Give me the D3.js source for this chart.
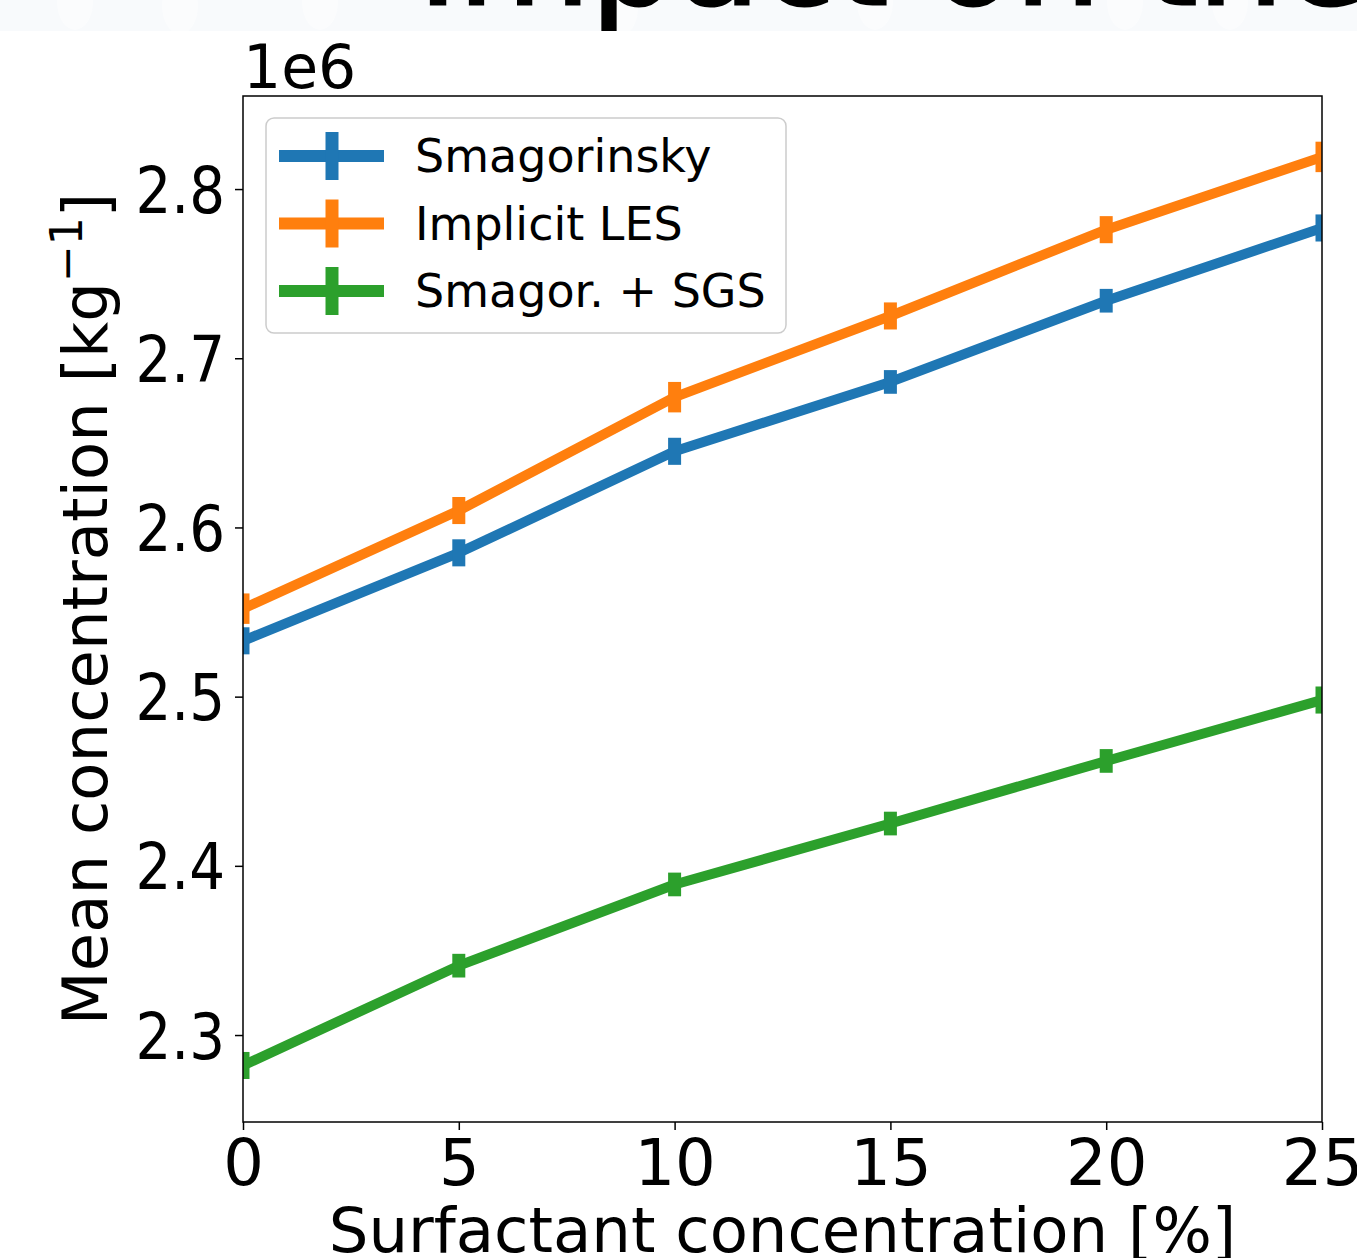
<!DOCTYPE html>
<html>
<head>
<meta charset="utf-8">
<script src="https://cdn.jsdelivr.net/npm/d3@7"></script>
<style>
  html, body { margin: 0; padding: 0; background: #ffffff; }
  svg { display: block; font-family: "DejaVu Sans", sans-serif; }
</style>
</head>
<body>
<script>
// ---- data ----
const xValues = [0, 5, 10, 15, 20, 25];
const seriesNames = ["Smagorinsky", "Implicit LES", "Smagor. + SGS"];
const smagorinsky = [2.533, 2.585, 2.645, 2.686, 2.734, 2.777];
const implicitLES = [2.552, 2.610, 2.677, 2.725, 2.776, 2.819];
const smagorSGS   = [2.282, 2.341, 2.389, 2.425, 2.462, 2.498];
const smagorinskyErr = [0.008, 0.008, 0.008, 0.007, 0.007, 0.008];
const implicitLESErr = [0.009, 0.008, 0.009, 0.008, 0.008, 0.009];
const smagorSGSErr   = [0.008, 0.007, 0.007, 0.007, 0.007, 0.008];
const xTicks = [0, 5, 10, 15, 20, 25];
const yTicks = [2.3, 2.4, 2.5, 2.6, 2.7, 2.8];
const colors = ["#1f77b4", "#ff7f0e", "#2ca02c"];
const titleText = "Impact on the";

const W = 1357, H = 1258;
const plot = { left: 243, right: 1322, top: 96, bottom: 1122 };

const svg = d3.select("body").append("svg").attr("width", W).attr("height", H);

// ---- cropped slide header ----
svg.append("defs").append("clipPath").attr("id", "bandClip")
  .append("rect").attr("x", 0).attr("y", 0).attr("width", W).attr("height", 31);
const band = svg.append("g").attr("clip-path", "url(#bandClip)");
band.append("rect").attr("x", 0).attr("y", 0).attr("width", W).attr("height", 31).attr("fill", "#f8fafc");
[[75, 2], [180, 6], [320, 2], [620, 8], [875, 2], [1125, 2], [1230, 2]].forEach(([cx, cy]) => {
  band.append("ellipse").attr("cx", cx).attr("cy", cy).attr("rx", 18).attr("ry", 28)
    .attr("fill", "#ffffff").attr("opacity", 0.45);
});
band.append("text").attr("x", 418).attr("y", 4)
  .attr("font-size", 136).attr("fill", "#000").attr("font-family", "DejaVu Sans")
  .attr("stroke", "#000").attr("stroke-width", 3)
  .text(titleText);

// ---- scales ----
const x = d3.scaleLinear().domain([0, 25]).range([plot.left, plot.right]);
const y = d3.scaleLinear().domain([2.2486, 2.855]).range([plot.bottom, plot.top]);

svg.append("defs").append("clipPath").attr("id", "plotClip")
  .append("rect").attr("x", plot.left).attr("y", plot.top)
  .attr("width", plot.right - plot.left).attr("height", plot.bottom - plot.top);

// ---- series ----
const series = [
  { name: seriesNames[0], values: smagorinsky, err: smagorinskyErr, color: colors[0] },
  { name: seriesNames[1], values: implicitLES, err: implicitLESErr, color: colors[1] },
  { name: seriesNames[2], values: smagorSGS, err: smagorSGSErr, color: colors[2] }
];

const line = d3.line().x((d, i) => x(xValues[i])).y(d => y(d));
const dataG = svg.append("g").attr("clip-path", "url(#plotClip)");
series.forEach(s => {
  dataG.append("path").datum(s.values).attr("d", line)
    .attr("fill", "none").attr("stroke", s.color).attr("stroke-width", 10)
    .attr("stroke-linejoin", "round").attr("stroke-linecap", "square");
  dataG.selectAll(null).data(s.values).enter().append("line")
    .attr("x1", (d, i) => x(xValues[i])).attr("x2", (d, i) => x(xValues[i]))
    .attr("y1", (d, i) => y(d - s.err[i])).attr("y2", (d, i) => y(d + s.err[i]))
    .attr("stroke", s.color).attr("stroke-width", 13);
});

// ---- axes ----
const tickFont = 64;
const xAxis = d3.axisBottom(x).tickValues(xTicks).tickFormat(d3.format("d")).tickSize(8).tickPadding(8);
const gx = svg.append("g").attr("transform", `translate(0,${plot.bottom})`).call(xAxis);
gx.select(".domain").remove();
gx.selectAll(".tick line").attr("stroke", "#000").attr("stroke-width", 1.5);
gx.selectAll(".tick text").attr("font-size", tickFont).attr("font-family", "DejaVu Sans").attr("fill", "#000").attr("dy", "0.74em");

const yAxis = d3.axisLeft(y).tickValues(yTicks).tickFormat(d3.format(".1f")).tickSize(8).tickPadding(12.5);
const gy = svg.append("g").attr("transform", `translate(${plot.left},0)`).call(yAxis);
gy.select(".domain").remove();
gy.selectAll(".tick line").attr("stroke", "#000").attr("stroke-width", 1.5);
gy.selectAll(".tick text").attr("font-size", tickFont).attr("font-family", "DejaVu Sans").attr("fill", "#000")
  .attr("dy", "0.36em").attr("transform", "scale(0.88,1)");

// frame
svg.append("rect").attr("x", plot.left).attr("y", plot.top)
  .attr("width", plot.right - plot.left).attr("height", plot.bottom - plot.top)
  .attr("fill", "none").attr("stroke", "#000").attr("stroke-width", 1.5);

// offset text
svg.append("text").attr("x", 243).attr("y", 88).attr("font-size", 60)
  .attr("font-family", "DejaVu Sans").attr("fill", "#000").text("1e6");

// axis labels
svg.append("text").attr("x", (plot.left + plot.right) / 2).attr("y", 1252)
  .attr("text-anchor", "middle").attr("font-size", 62.5).attr("font-family", "DejaVu Sans")
  .attr("fill", "#000").text("Surfactant concentration [%]");

const yl = svg.append("text")
  .attr("transform", `translate(107,${(plot.top + plot.bottom) / 2}) rotate(-90)`)
  .attr("text-anchor", "middle").attr("font-size", 62.5).attr("font-family", "DejaVu Sans").attr("fill", "#000");
yl.append("tspan").text("Mean concentration [kg");
yl.append("tspan").attr("font-size", 44).attr("dy", -25).text("\u22121");
yl.append("tspan").attr("dy", 25).text("]");

// ---- legend ----
const leg = svg.append("g");
leg.append("rect").attr("x", 266).attr("y", 118).attr("width", 520).attr("height", 215)
  .attr("rx", 8).attr("fill", "#ffffff").attr("fill-opacity", 0.8)
  .attr("stroke", "#cccccc").attr("stroke-width", 1.5);
series.forEach((s, i) => {
  const cy = 156 + i * 67.5;
  leg.append("line").attr("x1", 279).attr("x2", 384).attr("y1", cy).attr("y2", cy)
    .attr("stroke", s.color).attr("stroke-width", 12);
  leg.append("line").attr("x1", 332).attr("x2", 332).attr("y1", cy - 24).attr("y2", cy + 24)
    .attr("stroke", s.color).attr("stroke-width", 13);
  leg.append("text").attr("x", 415).attr("y", cy + 16).attr("font-size", 46)
    .attr("font-family", "DejaVu Sans").attr("fill", "#000").text(s.name);
});
</script>
</body>
</html>
